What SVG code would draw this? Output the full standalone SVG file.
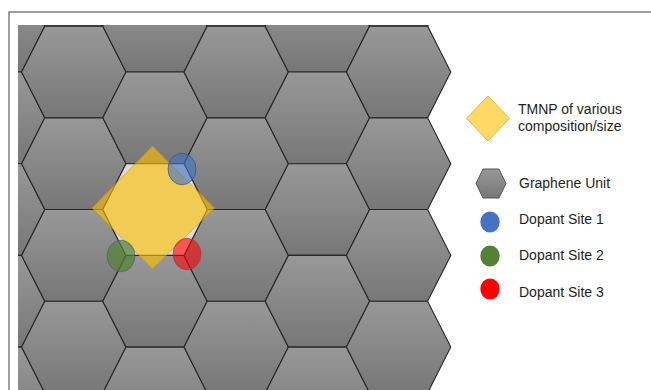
<svg xmlns="http://www.w3.org/2000/svg" xmlns:xlink="http://www.w3.org/1999/xlink" width="651" height="390" viewBox="0 0 651 390">
  <style>
    .hex { fill: url(#hexGrad); stroke: #262626; stroke-width: 1.1; }
    .lbl { font-family: "Liberation Sans", Arial, sans-serif; font-size: 14px; fill: #1e1e1e; }
  </style>
  <defs>
    <linearGradient id="hexGrad" x1="0" y1="0" x2="0" y2="1">
      <stop offset="0" stop-color="#989898"/>
      <stop offset="1" stop-color="#777777"/>
    </linearGradient>
    <polygon id="hx" points="-52.2,0 -29,-45.85 29,-45.85 52.2,0 29,45.85 -29,45.85"/>
    <clipPath id="gridClip">
      <rect x="18" y="25" width="640" height="370"/>
    </clipPath>
  </defs>

  <rect width="651" height="390" fill="#ffffff"/>
  <!-- frame -->
  <rect x="9" y="12" width="700" height="500" fill="none" stroke="#808080" stroke-width="1.5"/>

  <!-- graphene lattice -->
  <g id="lattice" clip-path="url(#gridClip)">
    <g class="hex">
      <use xlink:href="#hx" x="-7.4" y="26.15"/>
      <use xlink:href="#hx" x="-7.4" y="117.85"/>
      <use xlink:href="#hx" x="-7.4" y="209.55"/>
      <use xlink:href="#hx" x="-7.4" y="301.25"/>
      <use xlink:href="#hx" x="-7.4" y="392.95"/>

      <use xlink:href="#hx" x="73.8" y="-19.7"/>
      <use xlink:href="#hx" x="73.8" y="72"/>
      <use xlink:href="#hx" x="73.8" y="163.7"/>
      <use xlink:href="#hx" x="73.8" y="255.4"/>
      <use xlink:href="#hx" x="73.8" y="347.1"/>

      <use xlink:href="#hx" x="155" y="26.15"/>
      <use xlink:href="#hx" x="155" y="117.85"/>
      <use xlink:href="#hx" x="155" y="301.25"/>
      <use xlink:href="#hx" x="155" y="392.95"/>

      <use xlink:href="#hx" x="236.2" y="-19.7"/>
      <use xlink:href="#hx" x="236.2" y="72"/>
      <use xlink:href="#hx" x="236.2" y="163.7"/>
      <use xlink:href="#hx" x="236.2" y="255.4"/>
      <use xlink:href="#hx" x="236.2" y="347.1"/>

      <use xlink:href="#hx" x="317.4" y="26.15"/>
      <use xlink:href="#hx" x="317.4" y="117.85"/>
      <use xlink:href="#hx" x="317.4" y="209.55"/>
      <use xlink:href="#hx" x="317.4" y="301.25"/>
      <use xlink:href="#hx" x="317.4" y="392.95"/>

      <use xlink:href="#hx" x="398.6" y="-19.7"/>
      <use xlink:href="#hx" x="398.6" y="72"/>
      <use xlink:href="#hx" x="398.6" y="163.7"/>
      <use xlink:href="#hx" x="398.6" y="255.4"/>
      <use xlink:href="#hx" x="398.6" y="347.1"/>
    </g>
    <!-- central unit beneath the nanoparticle -->
    <use id="centerHex" xlink:href="#hx" x="155" y="209.55" fill="#dcdcdc" stroke="#262626" stroke-width="1.1"/>
  </g>

  <!-- TMNP -->
  <g id="tmnp">
    <polygon points="152.5,146 214.5,208 152.5,269 92,208" fill="#FFC000" fill-opacity="0.62" stroke="#BF9000" stroke-opacity="0.5" stroke-width="1"/>
  </g>

  <!-- dopant sites -->
  <g id="dopant1">
    <ellipse cx="182" cy="169" rx="14" ry="15.8" fill="#4472C4" fill-opacity="0.62" stroke="#2F528F" stroke-opacity="0.7" stroke-width="1"/>
  </g>
  <g id="dopant2">
    <ellipse cx="121" cy="256" rx="14" ry="15.8" fill="#548235" fill-opacity="0.72" stroke="#3B5E8C" stroke-opacity="0.6" stroke-width="1"/>
  </g>
  <g id="dopant3">
    <ellipse cx="187" cy="254" rx="14" ry="15.8" fill="#FF0000" fill-opacity="0.6" stroke="#8E3A5A" stroke-opacity="0.6" stroke-width="1"/>
  </g>

  <!-- legend -->
  <g id="legend-tmnp">
    <polygon points="488,96 509.5,118.3 488,141 466.5,118.3" fill="#FFD966" stroke="#E2B646" stroke-width="1"/>
    <text class="lbl" x="518" y="114">TMNP of various</text>
    <text class="lbl" x="518" y="130.5">composition/size</text>
  </g>
  <g id="legend-graphene">
    <polygon points="476,183.5 483,169 499,169 506,183.5 499,198 483,198" fill="url(#hexGrad)" stroke="#555555" stroke-width="1"/>
    <text class="lbl" x="519" y="188">Graphene Unit</text>
  </g>
  <g id="legend-dopant1">
    <ellipse cx="490" cy="222" rx="9.7" ry="10.5" fill="#4472C4"/>
    <text class="lbl" x="519" y="223.5">Dopant Site 1</text>
  </g>
  <g id="legend-dopant2">
    <ellipse cx="490" cy="256" rx="9.7" ry="10.5" fill="#548235"/>
    <text class="lbl" x="519" y="260">Dopant Site 2</text>
  </g>
  <g id="legend-dopant3">
    <ellipse cx="490" cy="289" rx="9.7" ry="10.5" fill="#FF0000"/>
    <text class="lbl" x="519" y="296.5">Dopant Site 3</text>
  </g>
</svg>
